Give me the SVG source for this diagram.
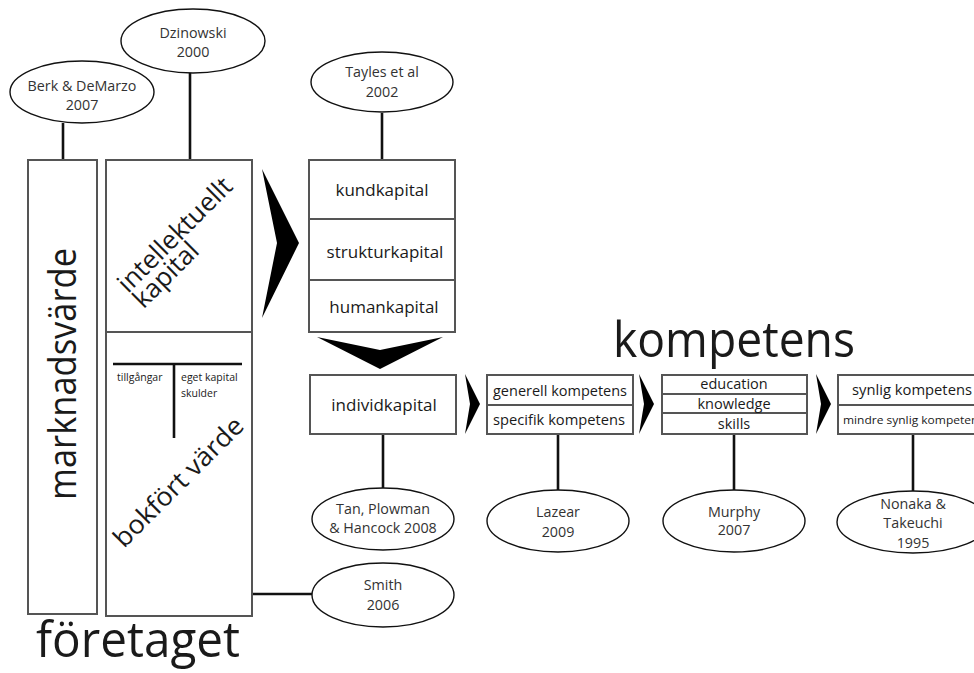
<svg xmlns="http://www.w3.org/2000/svg" width="974" height="673" viewBox="0 0 974 673">
<style>
text{font-family:"Open Sans","Noto Sans","Liberation Sans",sans-serif;fill:#1a1a1a}
.ref{font-size:14.3px;fill:#333;text-anchor:middle}
.box{fill:#fff;stroke:#555;stroke-width:2}
.ell{fill:#fff;stroke:#111;stroke-width:1.4}
.con{stroke:#111;stroke-width:2.6;fill:none}
.chev{fill:#000}
.lbl{font-size:17px;text-anchor:middle}
.sm{font-size:14.5px;text-anchor:middle}
.big{font-size:50px}
</style>
<g id="connectors">
<line class="con" x1="63" y1="123" x2="63" y2="160"/>
<line class="con" x1="190" y1="72" x2="190" y2="160"/>
<line class="con" x1="382" y1="113" x2="382" y2="160"/>
<line class="con" x1="383" y1="434" x2="383" y2="488"/>
<line class="con" x1="558" y1="434" x2="558" y2="490"/>
<line class="con" x1="734" y1="434" x2="734" y2="491"/>
<line class="con" x1="913" y1="434" x2="913" y2="491"/>
<line class="con" x1="252" y1="594" x2="312" y2="594"/>
<polygon class="chev" points="262,169 299,243 262,318 277,243"/>
<polygon class="chev" points="317,337 380,350 443,337 380,369"/>
<polygon class="chev" points="465,374 480,404 465,434 470,404"/>
<polygon class="chev" points="639,374 654,404 639,434 644,404"/>
<polygon class="chev" points="816,374 831,404 816,434 821,404"/>
</g>
<g id="berk">
<ellipse class="ell" cx="82" cy="92" rx="72" ry="31"/>
<text class="ref" x="82" y="91">Berk &amp; DeMarzo</text>
<text class="ref" x="82" y="110">2007</text>
</g>
<g id="dzinowski">
<ellipse class="ell" cx="193" cy="41" rx="72" ry="32"/>
<text class="ref" x="193" y="38">Dzinowski</text>
<text class="ref" x="193" y="57">2000</text>
</g>
<g id="marknadsvarde">
<rect class="box" x="28" y="160" width="69" height="454"/>
<text transform="translate(76,500) rotate(-90)" font-size="38" textLength="252" lengthAdjust="spacingAndGlyphs">marknadsvärde</text>
</g>
<g id="foretaget-box">
<rect class="box" x="106" y="160" width="146" height="456"/>
<line x1="106" y1="332" x2="252" y2="332" stroke="#555" stroke-width="2"/>
<g transform="translate(128,294) rotate(-45)">
<text x="0" y="0" font-size="26">intellektuellt</text>
<text x="0" y="22" font-size="26">kapital</text>
</g>
<line x1="113" y1="364" x2="242" y2="364" stroke="#111" stroke-width="2.6"/>
<line x1="174" y1="364" x2="174" y2="438" stroke="#111" stroke-width="2.6"/>
<text x="117" y="381" font-size="10.5" fill="#333">tillgångar</text>
<text x="181" y="381" font-size="10.5" fill="#333">eget kapital</text>
<text x="181" y="397" font-size="10.5" fill="#333">skulder</text>
<text transform="translate(124,549) rotate(-45)" font-size="26" textLength="172" lengthAdjust="spacingAndGlyphs">bokfört värde</text>
</g>
<g id="foretaget-label">
<text class="big" x="36" y="657" font-size="44" textLength="204" lengthAdjust="spacingAndGlyphs">företaget</text>
</g>
<g id="tayles">
<ellipse class="ell" cx="382" cy="82" rx="71" ry="30"/>
<text class="ref" x="382" y="77">Tayles et al</text>
<text class="ref" x="382" y="97">2002</text>
</g>
<g id="kapital-stack">
<rect class="box" x="309" y="160" width="146" height="172"/>
<line x1="309" y1="219" x2="455" y2="219" stroke="#555" stroke-width="2"/>
<line x1="309" y1="280" x2="455" y2="280" stroke="#555" stroke-width="2"/>
<text class="lbl" x="382" y="196">kundkapital</text>
<text class="lbl" x="385" y="258">strukturkapital</text>
<text class="lbl" x="384" y="313">humankapital</text>
</g>
<g id="individkapital">
<rect class="box" x="310" y="375" width="146" height="59"/>
<text class="lbl" x="384" y="411">individkapital</text>
</g>
<g id="tan">
<ellipse class="ell" cx="383" cy="519" rx="71" ry="31"/>
<text class="ref" x="383" y="514">Tan, Plowman</text>
<text class="ref" x="383" y="533">&amp; Hancock 2008</text>
</g>
<g id="smith">
<ellipse class="ell" cx="383" cy="595" rx="71" ry="32"/>
<text class="ref" x="383" y="590">Smith</text>
<text class="ref" x="383" y="610">2006</text>
</g>
<g id="generell">
<rect class="box" x="487" y="375" width="146" height="59"/>
<line x1="487" y1="405" x2="633" y2="405" stroke="#555" stroke-width="2"/>
<text class="sm" x="560" y="396" textLength="134" lengthAdjust="spacingAndGlyphs">generell kompetens</text>
<text class="sm" x="559" y="425" textLength="132" lengthAdjust="spacingAndGlyphs">specifik kompetens</text>
</g>
<g id="lazear">
<ellipse class="ell" cx="558" cy="521" rx="71" ry="31"/>
<text class="ref" x="558" y="517">Lazear</text>
<text class="ref" x="558" y="537">2009</text>
</g>
<g id="kompetens-label">
<text class="big" x="613" y="357" textLength="242" lengthAdjust="spacingAndGlyphs">kompetens</text>
</g>
<g id="education">
<rect class="box" x="662" y="375" width="145" height="59"/>
<line x1="662" y1="394" x2="807" y2="394" stroke="#555" stroke-width="2"/>
<line x1="662" y1="413" x2="807" y2="413" stroke="#555" stroke-width="2"/>
<text class="sm" x="734" y="389">education</text>
<text class="sm" x="734" y="409">knowledge</text>
<text class="sm" x="734" y="429">skills</text>
</g>
<g id="murphy">
<ellipse class="ell" cx="734" cy="521" rx="71" ry="31"/>
<text class="ref" x="734" y="517">Murphy</text>
<text class="ref" x="734" y="535">2007</text>
</g>
<g id="synlig">
<rect class="box" x="838" y="375" width="150" height="59"/>
<line x1="838" y1="405" x2="988" y2="405" stroke="#555" stroke-width="2"/>
<text x="852" y="395" font-size="14.5" textLength="120" lengthAdjust="spacingAndGlyphs">synlig kompetens</text>
<text x="843" y="424" font-size="11" textLength="141" lengthAdjust="spacingAndGlyphs">mindre synlig kompetens</text>
</g>
<g id="nonaka">
<ellipse class="ell" cx="913" cy="522" rx="76" ry="31"/>
<text class="ref" x="913" y="509">Nonaka &amp;</text>
<text class="ref" x="913" y="528">Takeuchi</text>
<text class="ref" x="913" y="548">1995</text>
</g>
</svg>
